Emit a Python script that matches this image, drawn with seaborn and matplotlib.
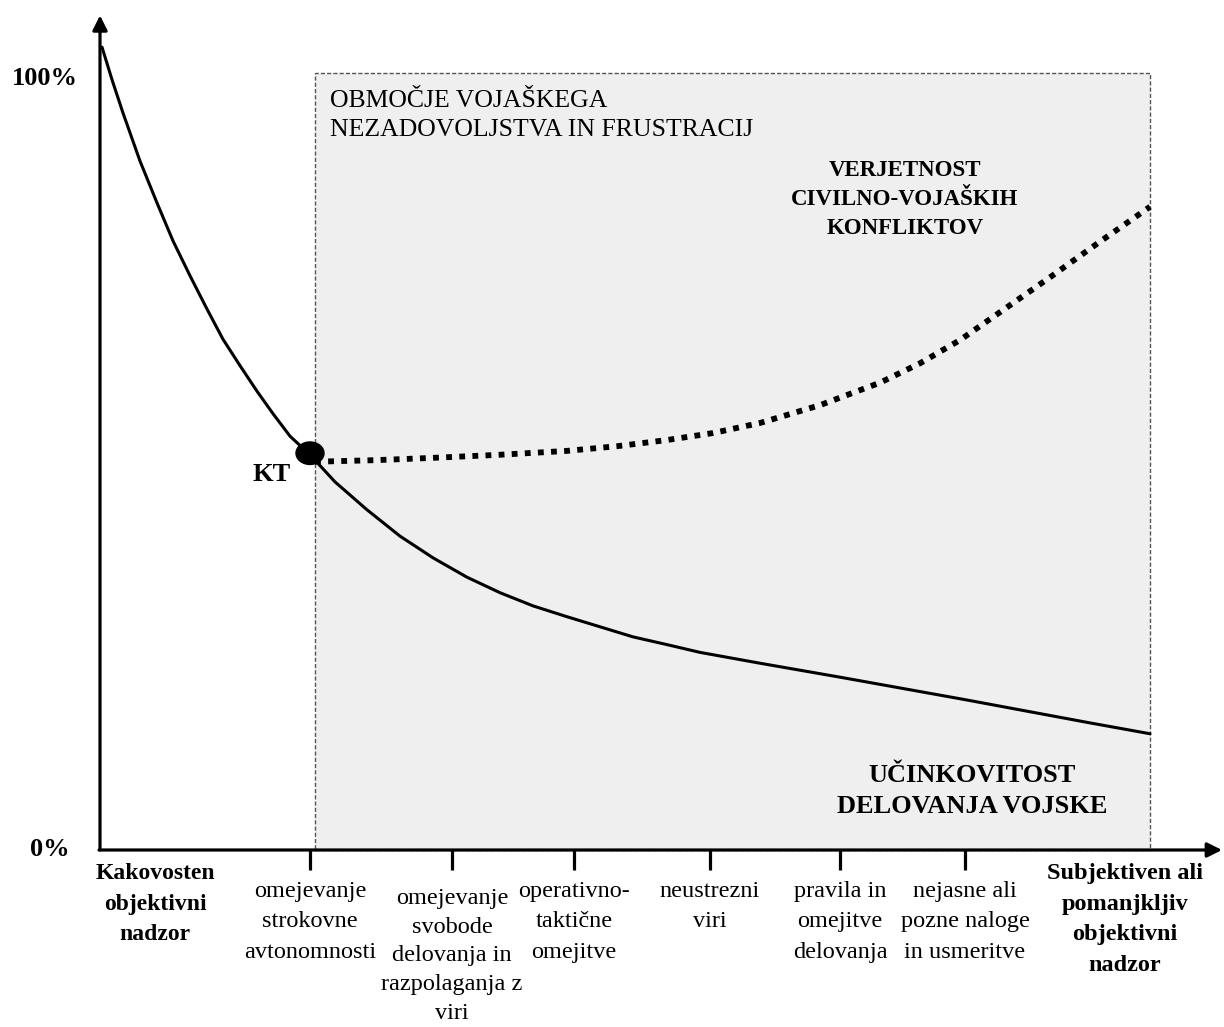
import matplotlib
matplotlib.use("Agg")
import matplotlib.pyplot as plt
import seaborn as sns
import pandas as pd
from matplotlib.patches import Rectangle, Ellipse

sns.set_theme(style="white")
plt.rcParams["font.family"] = ["Liberation Serif", "DejaVu Serif"]
plt.rcParams["text.color"] = "black"

# učinkovitost delovanja vojske (polna črta)
eff_x = [2, 12, 23, 40, 57, 73, 90, 107, 123, 140, 157, 173, 190, 210, 235, 267, 300, 333, 367,
         400, 433, 467, 500, 533, 567, 600, 660, 740, 865, 990, 1050]
eff_y = [103.6, 99.4, 95.1, 88.9, 83.5, 78.6, 74.1, 69.8, 65.9, 62.5, 59.2, 56.3, 53.4, 51.0, 47.5,
         43.9, 40.5, 37.7, 35.2, 33.2, 31.5, 30.1, 28.8, 27.5, 26.5, 25.5, 24.1, 22.3, 19.4, 16.4, 15.0]

# verjetnost civilno-vojaških konfliktov (pikčasta črta)
conf_x = [215, 275, 333, 400, 467, 517, 567, 613, 660, 720, 780, 820, 860, 900, 950, 1000, 1050]
conf_y = [50.1, 50.3, 50.6, 51.0, 51.5, 52.1, 52.9, 53.8, 55.1, 57.4, 60.3, 62.8, 65.8, 69.4, 73.9, 78.5, 83.0]

kt_x, kt_y = 210, 51.2

tick_pos = [210, 352, 474, 610, 740, 865]
tick_labels = [
    "omejevanje\nstrokovne\navtonomnosti",
    "omejevanje\nsvobode\ndelovanja in\nrazpolaganja z\nviri",
    "operativno-\ntaktične\nomejitve",
    "neustrezni\nviri",
    "pravila in\nomejitve\ndelovanja",
    "nejasne ali\npozne naloge\nin usmeritve",
]
left_label = "Kakovosten\nobjektivni\nnadzor"
right_label = "Subjektiven ali\npomanjkljiv\nobjektivni\nnadzor"

eff = pd.DataFrame({"x": eff_x, "y": eff_y})
conf = pd.DataFrame({"x": conf_x, "y": conf_y})

fig = plt.figure(figsize=(12.24, 10.27), dpi=100)
ax = fig.add_axes([0, 0, 1, 1])
ax.set_xlim(-100, 1124)
ax.set_ylim(-22.84, 109.68)
ax.axis("off")

# območje nezadovoljstva
ax.add_patch(Rectangle((215, 0), 835, 100.3, facecolor="#efefef", edgecolor="#555555",
                       linestyle=(0, (3, 1.5)), linewidth=1, zorder=0))

# osi
ax.annotate("", xy=(0, 107.7), xytext=(0, 0),
            arrowprops=dict(arrowstyle="-|>", lw=2.3, color="black", mutation_scale=22, shrinkA=0, shrinkB=0))
ax.annotate("", xy=(1122, 0), xytext=(-1, 0),
            arrowprops=dict(arrowstyle="-|>", lw=2.3, color="black", mutation_scale=22, shrinkA=0, shrinkB=0))
for t in tick_pos:
    ax.plot([t, t], [0, -2.6], color="black", lw=2.3, solid_capstyle="butt")

sns.lineplot(data=eff, x="x", y="y", ax=ax, color="black", lw=2.2, sort=False, estimator=None)
sns.lineplot(data=conf, x="x", y="y", ax=ax, color="black", lw=4.2, sort=False, estimator=None,
             linestyle=(0, (1.0, 1.25)), dash_capstyle="butt")
ax.add_patch(Ellipse((kt_x, kt_y), 28, 2.9, color="black", zorder=5))

ax.text(-88, 99.6, "100%", fontsize=19, fontweight="bold", ha="left", va="center")
ax.text(-70, 0, "0%", fontsize=19, fontweight="bold", ha="left", va="center")
ax.text(172, 48.4, "KT", fontsize=19, fontweight="bold", ha="center", va="center")
ax.text(230, 94.8, "OBMOČJE VOJAŠKEGA\nNEZADOVOLJSTVA IN FRUSTRACIJ", fontsize=18.5,
        ha="left", va="center", linespacing=1.4)
ax.text(805, 84.0, "VERJETNOST\nCIVILNO-VOJAŠKIH\nKONFLIKTOV", fontsize=16.5, fontweight="bold",
        ha="center", va="center", linespacing=1.5)
ax.text(872, 7.6, "UČINKOVITOST\nDELOVANJA VOJSKE", fontsize=19, fontweight="bold",
        ha="center", va="center", linespacing=1.4)

ax.text(55, -1.7, left_label, fontsize=17, fontweight="bold", ha="center", va="top", linespacing=1.6)
ax.text(1025, -1.7, right_label, fontsize=17.5, fontweight="bold", ha="center", va="top", linespacing=1.6)
tops = [-4.0, -4.9, -4.0, -4.0, -4.0, -4.0]
spacings = [1.58, 1.48, 1.58, 1.58, 1.58, 1.58]
for t, lab, top, ls in zip(tick_pos, tick_labels, tops, spacings):
    ax.text(t, top, lab, fontsize=17.5, ha="center", va="top", linespacing=ls)

fig.savefig("out.png", dpi=100)
